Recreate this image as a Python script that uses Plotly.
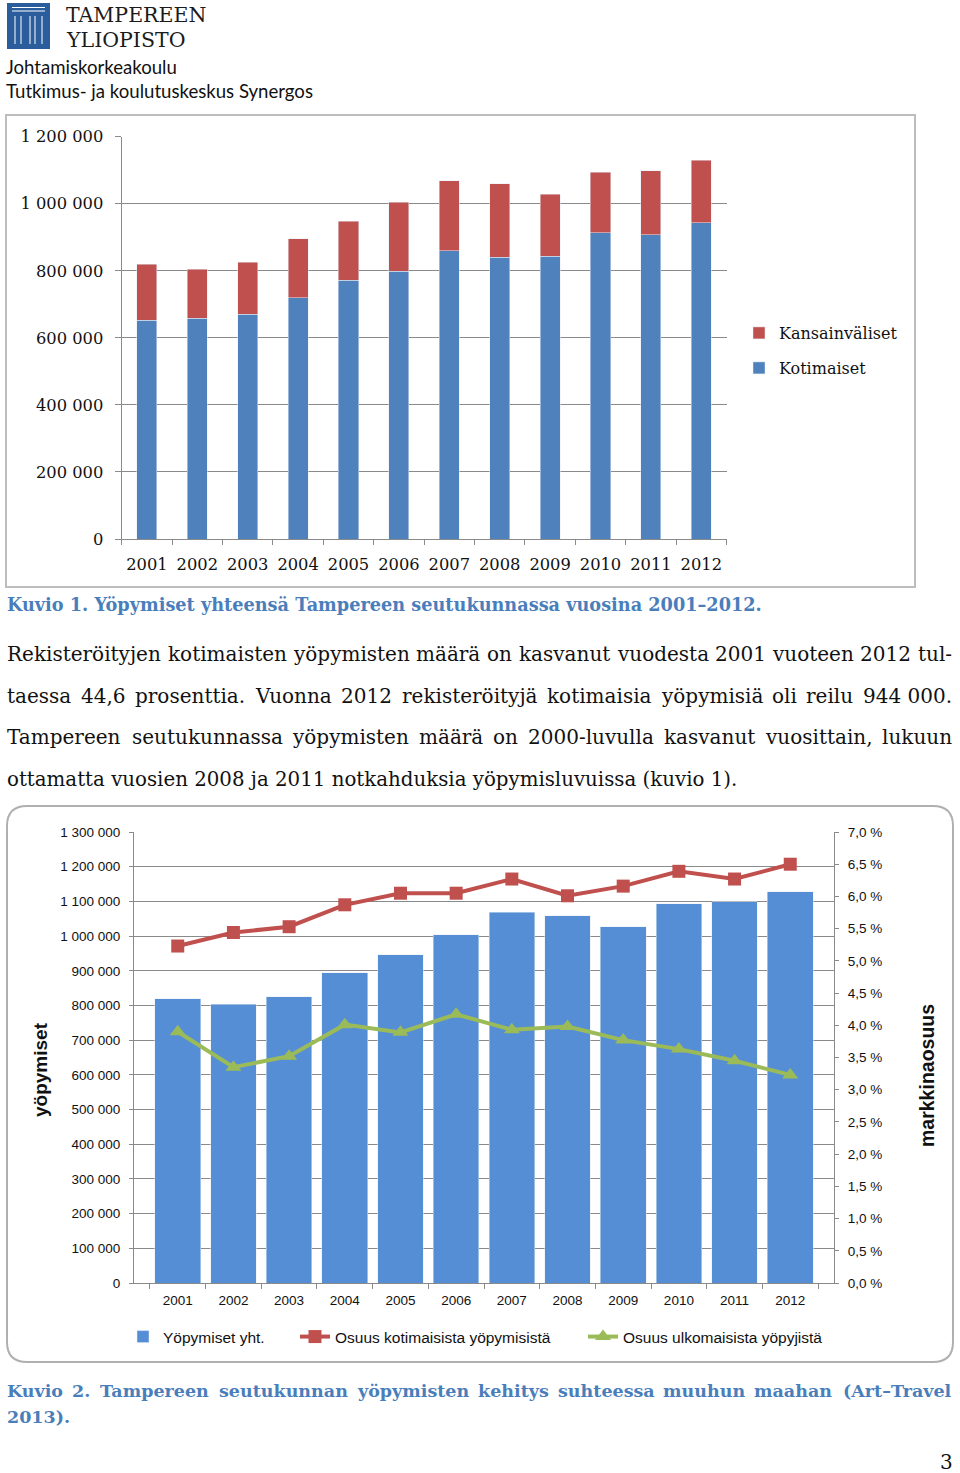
import plotly.graph_objects as go

# ---------------- data ----------------
years = ["2001", "2002", "2003", "2004", "2005", "2006", "2007", "2008", "2009", "2010", "2011", "2012"]
kotimaiset = [652000, 659000, 670000, 720000, 772000, 798000, 860000, 840000, 844000, 913000, 908000, 944000]
kansainvaliset = [167000, 146000, 156000, 175000, 176000, 207000, 209000, 219000, 185000, 181000, 191000, 186000]
yopymiset_yht = [819000, 804000, 825000, 895000, 946000, 1004000, 1069000, 1058000, 1027000, 1093000, 1099000, 1128000]
osuus_kotimaisista = [5.23, 5.44, 5.53, 5.87, 6.05, 6.05, 6.27, 6.01, 6.16, 6.39, 6.27, 6.50]
osuus_ulkomaisista = [3.90, 3.35, 3.52, 4.01, 3.89, 4.17, 3.93, 3.98, 3.77, 3.63, 3.45, 3.23]

body_lines = [
    "Rekisteröityjen kotimaisten yöpymisten määrä on kasvanut vuodesta 2001 vuoteen 2012 tul-",
    "taessa 44,6 prosenttia. Vuonna 2012 rekisteröityjä kotimaisia yöpymisiä oli reilu 944\u00a0000.",
    "Tampereen seutukunnassa yöpymisten määrä on 2000-luvulla kasvanut vuosittain, lukuun",
    "ottamatta vuosien 2008 ja 2011 notkahduksia yöpymisluvuissa (kuvio 1).",
]
caption1 = "Kuvio 1. Yöpymiset yhteensä Tampereen seutukunnassa vuosina 2001–2012."
caption2 = ["Kuvio 2. Tampereen seutukunnan yöpymisten kehitys suhteessa muuhun maahan (Art–Travel", "2013)."]

W, H = 960, 1473


def fx(px):
    return px / W


def fy(py):
    return 1 - py / H


SERIF = "DejaVu Serif"
SANS = "Liberation Sans, Arial"
BLUE1 = "#4f81bd"
RED1 = "#c0504d"
BLUE2 = "#558ed5"
GREEN = "#9bbb59"
GRID = "#8a8a8a"
CAPTION = "#4a7ebb"

# approximate DejaVu Serif advance widths (em)
CW = {
    'a': .596, 'b': .640, 'c': .560, 'd': .640, 'e': .592, 'f': .370, 'g': .640, 'h': .644, 'i': .320,
    'j': .310, 'k': .606, 'l': .320, 'm': .948, 'n': .644, 'o': .602, 'p': .640, 'q': .640, 'r': .478,
    's': .513, 't': .402, 'u': .644, 'v': .565, 'w': .856, 'x': .564, 'y': .565, 'z': .527,
    'ä': .596, 'ö': .602, 'A': .722, 'B': .735, 'C': .765, 'D': .802, 'E': .730, 'F': .694, 'G': .799,
    'H': .872, 'I': .395, 'J': .401, 'K': .747, 'L': .664, 'M': 1.024, 'N': .875, 'O': .820, 'P': .673,
    'R': .753, 'S': .685, 'T': .667, 'U': .843, 'V': .722, 'Y': .660, ' ': .318, '\u00a0': .318,
    '.': .318, ',': .318, '-': .338, '(': .390, ')': .390, '–': .500,
}
for d in "0123456789":
    CW[d] = .636


def text_w(s, size, bold=False):
    w = sum(CW.get(ch, .6) for ch in s) * size
    return w * 1.115 if bold else w


annotations = []


def add_text(txt, x, y, size, family=SERIF, color="#111111", xanchor="left", angle=0):
    annotations.append(dict(text=txt, x=fx(x), y=fy(y), xref="paper", yref="paper", showarrow=False,
                            xanchor=xanchor, yanchor="middle", textangle=angle, borderpad=0, borderwidth=0,
                            font=dict(family=family, size=size, color=color)))


def justify(line, x0, x1, y, size, bold=False, color="#111111"):
    words = line.split(" ")
    widths = [text_w(w, size, bold) for w in words]
    gap = (x1 - x0 - sum(widths)) / (len(words) - 1)
    x = x0
    for i, (wd, w) in enumerate(zip(words, widths)):
        t = "<b>%s</b>" % wd if bold else wd
        if i == 0:
            add_text(t, x, y, size, color=color, xanchor="left")
        elif i == len(words) - 1:
            add_text(t, x1, y, size, color=color, xanchor="right")
        else:
            add_text(t, x + w / 2, y, size, color=color, xanchor="center")
        x += w + gap


# ---------------- traces ----------------
fig = go.Figure()
fig.add_trace(go.Bar(x=years, y=kotimaiset, name="Kotimaiset", marker_color=BLUE1, width=0.4,
                     xaxis="x", yaxis="y", legend="legend2"))
fig.add_trace(go.Bar(x=years, y=kansainvaliset, name="Kansainväliset", marker_color=RED1, width=0.4,
                     xaxis="x", yaxis="y", legend="legend"))
fig.add_trace(go.Bar(x=years, y=yopymiset_yht, name="Yöpymiset yht.", marker_color=BLUE2, width=0.82,
                     xaxis="x2", yaxis="y2", legend="legend3"))
fig.add_trace(go.Scatter(x=years, y=osuus_kotimaisista, name="Osuus kotimaisista yöpymisistä",
                         mode="lines+markers", line=dict(color=RED1, width=4),
                         marker=dict(symbol="square", size=13, color=RED1),
                         xaxis="x2", yaxis="y3", legend="legend4"))
fig.add_trace(go.Scatter(x=years, y=osuus_ulkomaisista, name="Osuus ulkomaisista yöpyjistä",
                         mode="lines+markers", line=dict(color=GREEN, width=4),
                         marker=dict(symbol="triangle-up", size=14, color=GREEN),
                         xaxis="x2", yaxis="y3", legend="legend5"))

# ---------------- text ----------------
add_text("TAMPEREEN", 66, 15.5, 20.5, family=SERIF, color="#1b1b1b")
add_text("YLIOPISTO", 66, 39.5, 20.5, family=SERIF, color="#1b1b1b")
add_text("Johtamiskorkeakoulu", 6, 67, 18.6, family="Lato", color="#111111")
add_text("Tutkimus- ja koulutuskeskus Synergos", 6, 91, 18.6, family="Lato", color="#111111")

add_text("<b>%s</b>" % caption1, 7, 604, 17.7, color=CAPTION)
for i, ln in enumerate(body_lines[:3]):
    justify(ln, 7, 952, 654 + i * 41.7, 20)
add_text(body_lines[3], 7, 654 + 3 * 41.7, 19.8)
justify(caption2[0], 7, 952, 1391, 17.5, bold=True, color=CAPTION)
add_text("<b>%s</b>" % caption2[1], 7, 1417, 17.5, color=CAPTION)
add_text("3", 953, 1462, 20, xanchor="right")

add_text("<b>yöpymiset</b>", 40, 1070, 19, family=SANS, color="#111111", xanchor="center", angle=-90)
add_text("<b>markkinaosuus</b>", 927, 1076, 19.5, family=SANS, color="#111111", xanchor="center", angle=-90)

# ---------------- shapes ----------------
shapes = []
# chart 1 frame
shapes.append(dict(type="rect", xref="paper", yref="paper", x0=fx(6), x1=fx(915), y0=fy(587), y1=fy(115),
                   line=dict(color="#bdbdbd", width=2), layer="below"))
# chart 2 rounded frame
r = 20
x0, x1, y0, y1 = 7, 953, 806, 1362
path = ("M {a},{b} L {c},{b} Q {x1},{b} {x1},{d} L {x1},{e} Q {x1},{f} {c},{f} L {a},{f} "
        "Q {x0},{f} {x0},{e} L {x0},{d} Q {x0},{b} {a},{b} Z").format(
    a=fx(x0 + r), c=fx(x1 - r), b=fy(y0), d=fy(y0 + r), e=fy(y1 - r), f=fy(y1), x0=fx(x0), x1=fx(x1))
shapes.append(dict(type="path", xref="paper", yref="paper", path=path,
                   line=dict(color="#b0b0b0", width=2), layer="below"))
# logo emblem
shapes.append(dict(type="rect", xref="paper", yref="paper", x0=fx(7), x1=fx(50), y0=fy(49), y1=fy(3),
                   fillcolor="#2b5c9c", line=dict(width=0), layer="below"))
for yy in (7.5, 11):
    shapes.append(dict(type="line", xref="paper", yref="paper", x0=fx(12), x1=fx(45), y0=fy(yy), y1=fy(yy),
                       line=dict(color="white", width=1)))
for xx in (15, 21, 30, 35, 42):
    shapes.append(dict(type="line", xref="paper", yref="paper", x0=fx(xx), x1=fx(xx), y0=fy(16), y1=fy(44),
                       line=dict(color="white", width=1)))

# ---------------- layout ----------------
axis_common = dict(showline=True, linecolor=GRID, linewidth=1.2, ticks="outside", tickcolor=GRID,
                   tickwidth=1.2, zeroline=False, fixedrange=True, automargin=False)

fig.update_layout(
    width=W, height=H, margin=dict(l=0, r=0, t=0, b=0, pad=0, autoexpand=False),
    paper_bgcolor="white", plot_bgcolor="rgba(0,0,0,0)",
    separators=", ", barmode="stack", showlegend=True,
    annotations=annotations, shapes=shapes,
    xaxis=dict(domain=[fx(121.7), fx(726.5)], anchor="y", type="category", tickson="boundaries", ticklen=5,
               tickangle=0, showgrid=False, tickfont=dict(family=SERIF, size=16.3, color="#111111"),
               ticklabelstandoff=10, **axis_common),
    yaxis=dict(domain=[fy(539), fy(136.7)], anchor="x", range=[0, 1200000], dtick=200000, tickformat=",d",
               ticklen=6, showgrid=True, gridcolor=GRID, gridwidth=1.2,
               tickfont=dict(family=SERIF, size=16.3, color="#111111"), ticklabelstandoff=8, **axis_common),
    xaxis2=dict(domain=[fx(134), fx(834)], anchor="y2", type="category", tickson="boundaries", ticklen=5,
                tickangle=0, showgrid=False, tickfont=dict(family=SANS, size=13.5, color="#111111"),
                ticklabelstandoff=5, **axis_common),
    yaxis2=dict(domain=[fy(1283), fy(832)], anchor="x2", range=[0, 1300000], dtick=100000, tickformat=",d",
                ticklen=4, showgrid=True, gridcolor=GRID, gridwidth=1.2,
                tickfont=dict(family=SANS, size=13.5, color="#111111"), ticklabelstandoff=6, **axis_common),
    yaxis3=dict(overlaying="y2", anchor="x2", side="right", range=[0, 7], dtick=0.5, tickformat=".1f",
                ticksuffix=" %", ticklen=4, showgrid=False,
                tickfont=dict(family=SANS, size=13.5, color="#111111"), ticklabelstandoff=6, **axis_common),
    legend=dict(x=fx(739), y=fy(333), xanchor="left", yanchor="middle", bgcolor="rgba(0,0,0,0)",
                font=dict(family=SERIF, size=16, color="#111111")),
    legend2=dict(x=fx(739), y=fy(368), xanchor="left", yanchor="middle", bgcolor="rgba(0,0,0,0)",
                 font=dict(family=SERIF, size=16, color="#111111")),
    legend3=dict(x=fx(123), y=fy(1337), xanchor="left", yanchor="middle", bgcolor="rgba(0,0,0,0)",
                 font=dict(family=SANS, size=15.5, color="#111111")),
    legend4=dict(x=fx(295), y=fy(1337), xanchor="left", yanchor="middle", bgcolor="rgba(0,0,0,0)",
                 font=dict(family=SANS, size=15.5, color="#111111")),
    legend5=dict(x=fx(583), y=fy(1337), xanchor="left", yanchor="middle", bgcolor="rgba(0,0,0,0)",
                 font=dict(family=SANS, size=15.5, color="#111111")),
)

fig.write_html(
    "out.html",
    config={"displayModeBar": False},
    post_script=(
        "var gd=document.getElementById('{plot_id}');"
        "gd.style.position='absolute';gd.style.left='0px';gd.style.top='0px';"
        "document.body.style.margin='0';document.body.style.padding='0';"
        "document.body.style.overflow='hidden';document.documentElement.style.overflow='hidden';"
    ),
)
